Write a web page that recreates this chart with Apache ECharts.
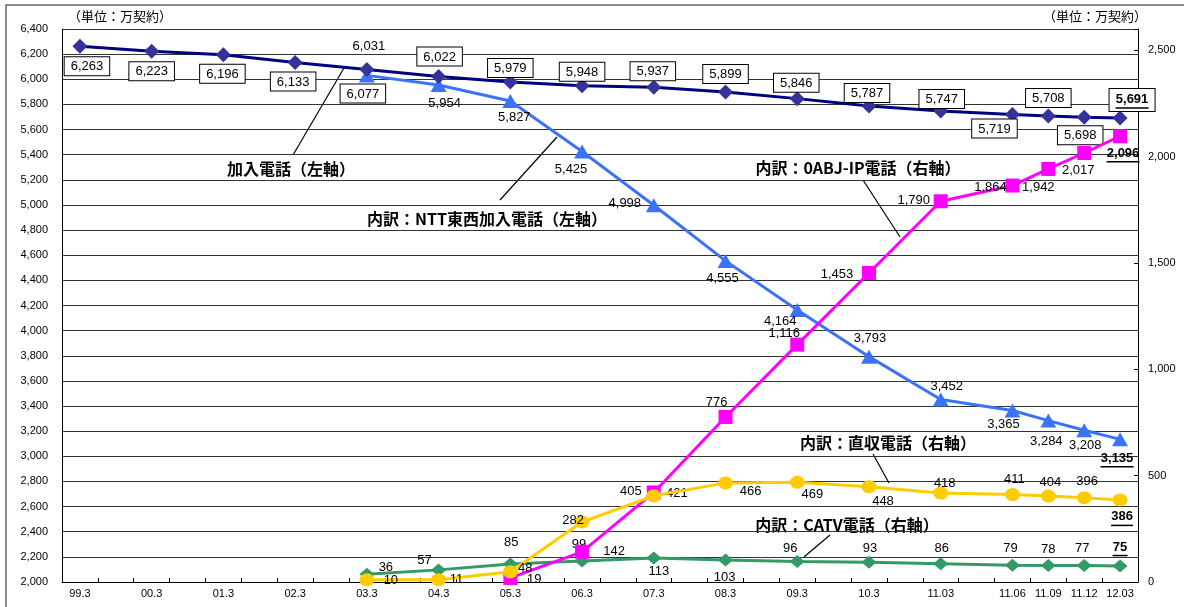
<!DOCTYPE html>
<html><head><meta charset="utf-8">
<script src="https://cdn.jsdelivr.net/npm/echarts@6/dist/echarts.min.js"></script>
<style>html,body{margin:0;padding:0;background:#fff}#c{width:1184px;height:607px}</style>
</head><body><div id="c"></div>
<script>
// ---- data ----
const periods = ['99.3','00.3','01.3','02.3','03.3','04.3','05.3','06.3','07.3','08.3','09.3','10.3','11.03','11.06','11.09','11.12','12.03'];
const xTickLabels = ['99.3','','00.3','','01.3','','02.3','','03.3','','04.3','','05.3','','06.3','','07.3','','08.3','','09.3','','10.3','','11.03','','11.06','11.09','11.12','12.03'];
const subscriberLines = [6263,6223,6196,6133,6077,6022,5979,5948,5937,5899,5846,5787,5747,5719,5708,5698,5691];
const nttLines = [null,null,null,null,6031,5954,5827,5425,4998,4555,4164,3793,3452,3365,3284,3208,3135];
const ipPhone = [null,null,null,null,null,null,19,142,421,776,1116,1453,1790,1864,1942,2017,2096];
const directLines = [null,null,null,null,10,11,48,282,405,466,469,448,418,411,404,396,386];
const catvPhone = [null,null,null,null,36,57,85,99,113,103,96,93,86,79,78,77,75];
const seriesNames = ['加入電話（左軸）','内訳：NTT東西加入電話（左軸）','内訳：0ABJ-IP電話（右軸）','内訳：直収電話（右軸）','内訳：CATV電話（右軸）'];
const unitLabel = '（単位：万契約）';

// ---- label placement (style) ----
const navyOff = [[7,20],[0,20],[-1,19],[-2,19],[-4,24],[1,-20],[0,-14],[0,-14],[-1,-16],[0,-18],[-1,-16],[-2,-13],[1,-12],[-18,14],[0,-18],[-4,18],[12,-18]];
const blueOff = [[2,-29],[6,18],[4,16],[-11,18],[-29,-2],[-3,18],[-17,11],[1,-18],[6,-13],[-9,14],[-2,21],[1,15],[-3,20]];
const pinkOff = [[24,1],[32,0],[23,1],[-9,-15],[-13,-11],[-32,1],[-27,-1],[-22,2],[-10,18],[-6,17],[3,18]];
const yellowOff = [[24,1],[18,0],[15,-3],[-9,-2],[-23,-4],[25,9],[15,12],[14,15],[4,-10],[2,-15],[2,-14],[3,-16],[2,18]];
const greenOff = [[19,-7],[-14,-9],[1,-21],[-3,-17],[5,13],[-1,17],[-7,-13],[1,-14],[1,-15],[-2,-17],[0,-16],[-2,-17],[0,-18]];

const fmt = v => Number(v).toLocaleString('en-US');
const NUMFONT = 'Liberation Sans, Arial, sans-serif';
const JPFONT = '"Noto Sans CJK JP", sans-serif';

function buildData(values, offsets) {
  const data = xTickLabels.map(() => null);
  let j = 0, lastSlot = -1;
  periods.forEach((p, i) => {
    const v = values[i];
    if (v == null) return;
    const slot = xTickLabels.indexOf(p);
    data[slot] = { value: v, label: { offset: offsets[j++] } };
    lastSlot = slot;
  });
  data[lastSlot].isLast = true;
  return data;
}

function textWidth(s) {
  let w = 0;
  for (const ch of s) w += (ch === ',' ? 3.7 : 7.3);
  return Math.round(w);
}

function labelCfg(values, extra) {
  const lastText = fmt(values[values.length - 1]);
  return Object.assign({
    show: true, position: 'inside', align: 'center', verticalAlign: 'middle',
    fontSize: 13, color: '#000', fontFamily: NUMFONT,
    formatter: p => p.data && p.data.isLast ? '{b|' + fmt(p.value) + '}\n{u|}' : fmt(p.value),
    rich: {
      b: { fontSize: 13, fontWeight: 'bold', fontFamily: NUMFONT, color: '#000', lineHeight: 15, align: 'center' },
      u: { width: textWidth(lastText), height: 1.5, lineHeight: 2, backgroundColor: '#000', align: 'center' }
    }
  }, extra || {});
}

function lineSeries(name, values, offsets, opts) {
  return Object.assign({
    name: name, type: 'line', connectNulls: true, animation: false,
    data: buildData(values, offsets), label: labelCfg(values, opts.labelExtra)
  }, opts.series);
}

const chart = echarts.init(document.getElementById('c'), null, { renderer: 'canvas' });
const option = {
  animation: false,
  backgroundColor: '#fff',
  grid: { left: 62, right: 46, top: 29, bottom: 25, containLabel: false },
  xAxis: {
    type: 'category', data: xTickLabels, boundaryGap: true,
    axisLine: { lineStyle: { color: '#000', width: 1 } },
    axisTick: { show: true, interval: 0, inside: true, length: 4, lineStyle: { color: '#000' } },
    axisLabel: { interval: 0, fontSize: 11, color: '#000', margin: 6, fontFamily: NUMFONT },
    splitLine: { show: false }
  },
  yAxis: [
    {
      type: 'value', min: 2000, max: 6400, interval: 200, position: 'left',
      axisLine: { show: true, lineStyle: { color: '#000' } },
      axisTick: { show: false },
      axisLabel: { formatter: v => fmt(v), fontSize: 11, color: '#000', margin: 14, fontFamily: NUMFONT },
      splitLine: { show: true, lineStyle: { color: '#333', width: 1 } }
    },
    {
      type: 'value', min: 0, max: 2600, interval: 500, position: 'right',
      axisLine: { show: true, lineStyle: { color: '#000' } },
      axisTick: { show: true, inside: true, length: 4, lineStyle: { color: '#000' } },
      axisLabel: { formatter: v => v > 2500 ? '' : fmt(v), fontSize: 11, color: '#000', margin: 10, fontFamily: NUMFONT },
      splitLine: { show: false }
    }
  ],
  series: [
    lineSeries(seriesNames[0], subscriberLines, navyOff, {
      series: { yAxisIndex: 0, symbol: 'diamond', symbolSize: 15, z: 3,
        lineStyle: { color: '#000080', width: 3 }, itemStyle: { color: '#333399' } },
      labelExtra: { backgroundColor: '#fff', borderColor: '#000', borderWidth: 1, padding: [3, 6, 2, 6] }
    }),
    lineSeries(seriesNames[1], nttLines, blueOff, {
      series: { yAxisIndex: 0, symbol: 'triangle', symbolSize: [16, 14], z: 2,
        lineStyle: { color: '#3A72F8', width: 3 }, itemStyle: { color: '#3A72F8' } }
    }),
    lineSeries(seriesNames[2], ipPhone, pinkOff, {
      series: { yAxisIndex: 1, symbol: 'rect', symbolSize: 14, z: 4,
        lineStyle: { color: '#FF00FF', width: 3 }, itemStyle: { color: '#FF00FF' } }
    }),
    lineSeries(seriesNames[3], directLines, yellowOff, {
      series: { yAxisIndex: 1, symbol: 'circle', symbolSize: [15, 13], z: 5,
        lineStyle: { color: '#FFCC00', width: 3 }, itemStyle: { color: '#FFCC00' } }
    }),
    lineSeries(seriesNames[4], catvPhone, greenOff, {
      series: { yAxisIndex: 1, symbol: 'diamond', symbolSize: [15, 13], z: 3,
        lineStyle: { color: '#339966', width: 3 }, itemStyle: { color: '#339966' } }
    })
  ],
  graphic: [
    { type: 'rect', silent: true, z: -10, shape: { x: 6, y: 5, width: 1300, height: 700 },
      style: { fill: 'none', stroke: '#666', lineWidth: 1.5 } },
    { type: 'text', left: 68, top: 10, style: { text: unitLabel, font: '13px ' + JPFONT, fill: '#000' } },
    { type: 'text', left: 1043, top: 10, style: { text: unitLabel, font: '13px ' + JPFONT, fill: '#000' } },
    // annotations
    { type: 'text', x: 291, y: 169, style: { text: seriesNames[0], font: 'bold 16px ' + JPFONT, fill: '#000', textAlign: 'center', textVerticalAlign: 'middle' } },
    { type: 'text', x: 487, y: 219, style: { text: seriesNames[1], font: 'bold 16px ' + JPFONT, fill: '#000', textAlign: 'center', textVerticalAlign: 'middle' } },
    { type: 'text', x: 858, y: 168, style: { text: seriesNames[2], font: 'bold 16px ' + JPFONT, fill: '#000', textAlign: 'center', textVerticalAlign: 'middle' } },
    { type: 'text', x: 888, y: 443, style: { text: seriesNames[3], font: 'bold 16px ' + JPFONT, fill: '#000', textAlign: 'center', textVerticalAlign: 'middle' } },
    { type: 'text', x: 847, y: 525, style: { text: seriesNames[4], font: 'bold 16px ' + JPFONT, fill: '#000', textAlign: 'center', textVerticalAlign: 'middle' } },
    { type: 'line', shape: { x1: 293, y1: 155, x2: 344, y2: 68 }, style: { stroke: '#000', lineWidth: 1.2 } },
    { type: 'line', shape: { x1: 500, y1: 200, x2: 557, y2: 137 }, style: { stroke: '#000', lineWidth: 1.2 } },
    { type: 'line', shape: { x1: 863, y1: 180, x2: 900, y2: 237 }, style: { stroke: '#000', lineWidth: 1.2 } },
    { type: 'line', shape: { x1: 873, y1: 454, x2: 889, y2: 483 }, style: { stroke: '#000', lineWidth: 1.2 } },
    { type: 'line', shape: { x1: 830, y1: 535, x2: 804, y2: 557 }, style: { stroke: '#000', lineWidth: 1.2 } }
  ]
};
chart.setOption(option);
</script></body></html>
